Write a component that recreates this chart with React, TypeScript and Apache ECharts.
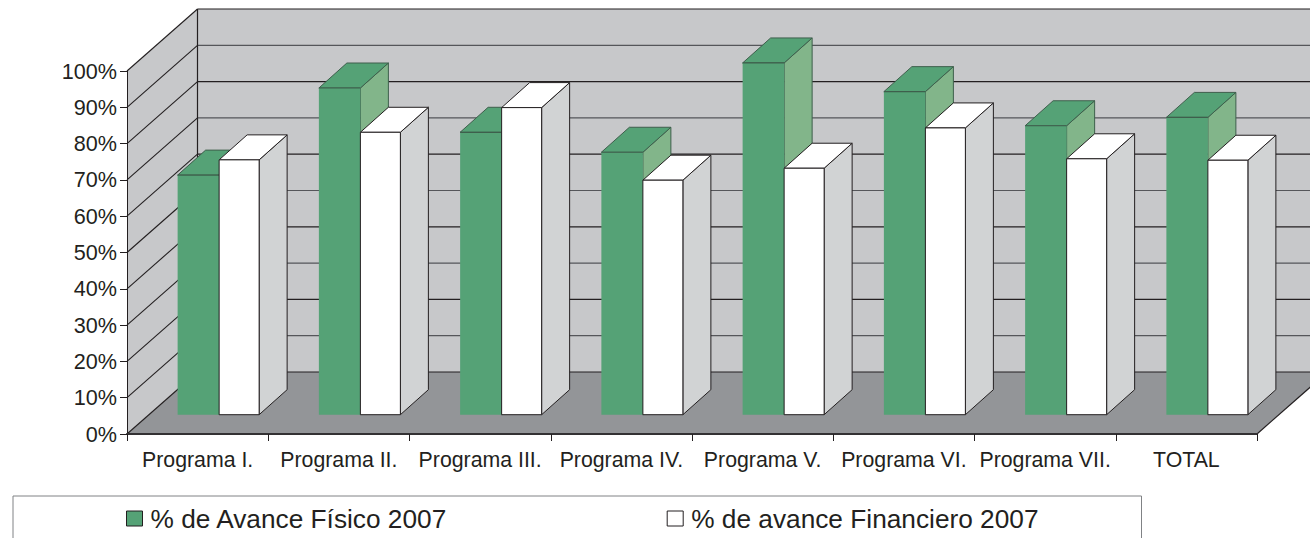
import React, { useEffect, useRef } from "react";
import * as echarts from "echarts";

const categories = ["Programa I.", "Programa II.", "Programa III.", "Programa IV.", "Programa V.", "Programa VI.", "Programa VII.", "TOTAL"];
const fisico = [66, 90, 77.8, 72.3, 96.9, 89, 79.6, 81.9];
const financiero = [70.2, 77.8, 84.6, 64.6, 67.9, 79, 70.5, 70.1];
const ticks = [0, 10, 20, 30, 40, 50, 60, 70, 80, 90, 100];

const INK = "#231F20";
const DX = 70.5, DY = 62;      // chart box depth
const BDX = 28, BDY = 25;      // bar depth
const BASE_X = 21.5, BASE_Y = 19.3; // bars sit this far into the box
const GREEN_W = 41.5, WHITE_W = 40;

function poly(points: number[][], fill: string, stroke?: string) {
  return {
    type: "polygon",
    shape: { points },
    style: { fill, stroke: stroke ?? "none", lineWidth: stroke ? 1 : 0 },
  };
}
function seg(a: number[], b: number[], w = 1, color = INK) {
  return {
    type: "line",
    shape: { x1: a[0], y1: a[1], x2: b[0], y2: b[1] },
    style: { stroke: color, lineWidth: w },
  };
}

function renderWalls(params: any, api: any) {
  const cs = params.coordSys;
  const x0 = cs.x, x1 = cs.x + cs.width;
  const y0 = api.coord([0, 0])[1];
  const yTop = api.coord([0, 100])[1];
  const children: any[] = [
    poly([[x0, y0], [x0 + DX, y0 - DY], [x0 + DX, yTop - DY], [x0, yTop]], "#C7C8CA"),
    poly([[x0 + DX, y0 - DY], [x1 + DX, y0 - DY], [x1 + DX, yTop - DY], [x0 + DX, yTop - DY]], "#C7C8CA"),
    poly([[x0, y0], [x1, y0], [x1 + DX, y0 - DY], [x0 + DX, y0 - DY]], "#939598"),
  ];
  ticks.forEach((t) => {
    const y = api.coord([0, t])[1];
    children.push(seg([x0, y], [x0 + DX, y - DY], 1.1));
    children.push(seg([x0 + DX, y - DY], [x1 + DX, y - DY], 1.2, t % 20 === 0 ? INK : "#55565A"));
  });
  children.push(seg([x0 + DX, y0 - DY], [x0 + DX, yTop - DY], 1.2));
  children.push(seg([x1, y0], [x1 + DX, y0 - DY], 1.2));
  return { type: "group", children };
}

function bar(api: any, side: -1 | 1, front: string, sideFill: string, top: string, edge: string, frontStroke: boolean) {
  const i = api.value(0);
  const [cx, y] = api.coord([i, api.value(1)]);
  const [, yb] = api.coord([i, 0]);
  const w = side < 0 ? GREEN_W : WHITE_W;
  const xl = cx + BASE_X + (side < 0 ? -w : 0);
  const xr = xl + w;
  const yt = y - BASE_Y;
  const ybase = yb - BASE_Y;
  const children: any[] = [
    poly([[xr, yt], [xr + BDX, yt - BDY], [xr + BDX, ybase - BDY], [xr, ybase]], sideFill, edge),
    poly([[xl, yt], [xl + BDX, yt - BDY], [xr + BDX, yt - BDY], [xr, yt]], top, edge),
    poly([[xl, yt], [xr, yt], [xr, ybase], [xl, ybase]], front, frontStroke ? edge : undefined),
  ];
  if (!frontStroke) children.push(seg([xl, yt], [xr, yt], 1.2, edge));
  return { type: "group", children };
}

export default function App() {
  const ref = useRef<HTMLDivElement>(null);
  useEffect(() => {
    document.body.style.margin = "0";
    const chart = echarts.init(ref.current!, undefined, { renderer: "svg" });
    chart.setOption({
      animation: false,
      backgroundColor: "#fff",
      textStyle: { fontFamily: "Liberation Sans" },
      grid: { left: 127, top: 71, width: 1130, height: 363, containLabel: false },
      xAxis: {
        type: "category",
        data: categories,
        z: 3,
        axisLine: { lineStyle: { color: "#333133", width: 2 } },
        axisTick: { show: true, alignWithLabel: false, length: 7, lineStyle: { color: INK, width: 1 } },
        axisLabel: { color: INK, fontSize: 21.3, fontFamily: "Liberation Sans", margin: 15, interval: 0 },
        splitLine: { show: false },
      },
      yAxis: {
        type: "value",
        min: 0,
        max: 100,
        interval: 10,
        z: 3,
        axisLine: { show: true, lineStyle: { color: INK, width: 1 } },
        axisTick: { show: true, length: 7, lineStyle: { color: INK, width: 1 } },
        axisLabel: { color: INK, fontSize: 21.6, fontFamily: "Liberation Sans", margin: 10, formatter: "{value}%" },
        splitLine: { show: false },
      },
      legend: {
        left: 13,
        top: 496,
        data: ["% de Avance Físico 2007", "% de avance Financiero 2007"],
        padding: [9.5, 103, 30, 113],
        itemGap: 219,
        itemWidth: 16,
        itemHeight: 15,
        borderColor: "#808285",
        borderWidth: 1,
        icon: "rect",
        itemStyle: { borderColor: INK, borderWidth: 1 },
        textStyle: { color: INK, fontSize: 26.25, fontFamily: "Liberation Sans", padding: [0, 0, 0, 3] },
        selectedMode: false,
      },
      series: [
        {
          name: "walls",
          type: "custom",
          z: 1,
          silent: true,
          data: [[0, 0]],
          renderItem: renderWalls,
        },
        {
          name: "% de Avance Físico 2007",
          type: "custom",
          z: 4,
          itemStyle: { color: "#55A276" },
          data: fisico.map((v, i) => [i, v]),
          encode: { x: 0, y: 1 },
          renderItem: (_: any, api: any) => bar(api, -1, "#55A276", "#82B58A", "#55A276", "#3E5F4C", false),
        },
        {
          name: "% de avance Financiero 2007",
          type: "custom",
          z: 4,
          itemStyle: { color: "#FFFFFF" },
          data: financiero.map((v, i) => [i, v]),
          encode: { x: 0, y: 1 },
          renderItem: (_: any, api: any) => bar(api, 1, "#FFFFFF", "#D1D3D4", "#FFFFFF", INK, true),
        },
      ],
    });
    return () => chart.dispose();
  }, []);
  return <div ref={ref} style={{ width: 1310, height: 538, position: "absolute", left: 0, top: 0, overflow: "hidden" }} />;
}
